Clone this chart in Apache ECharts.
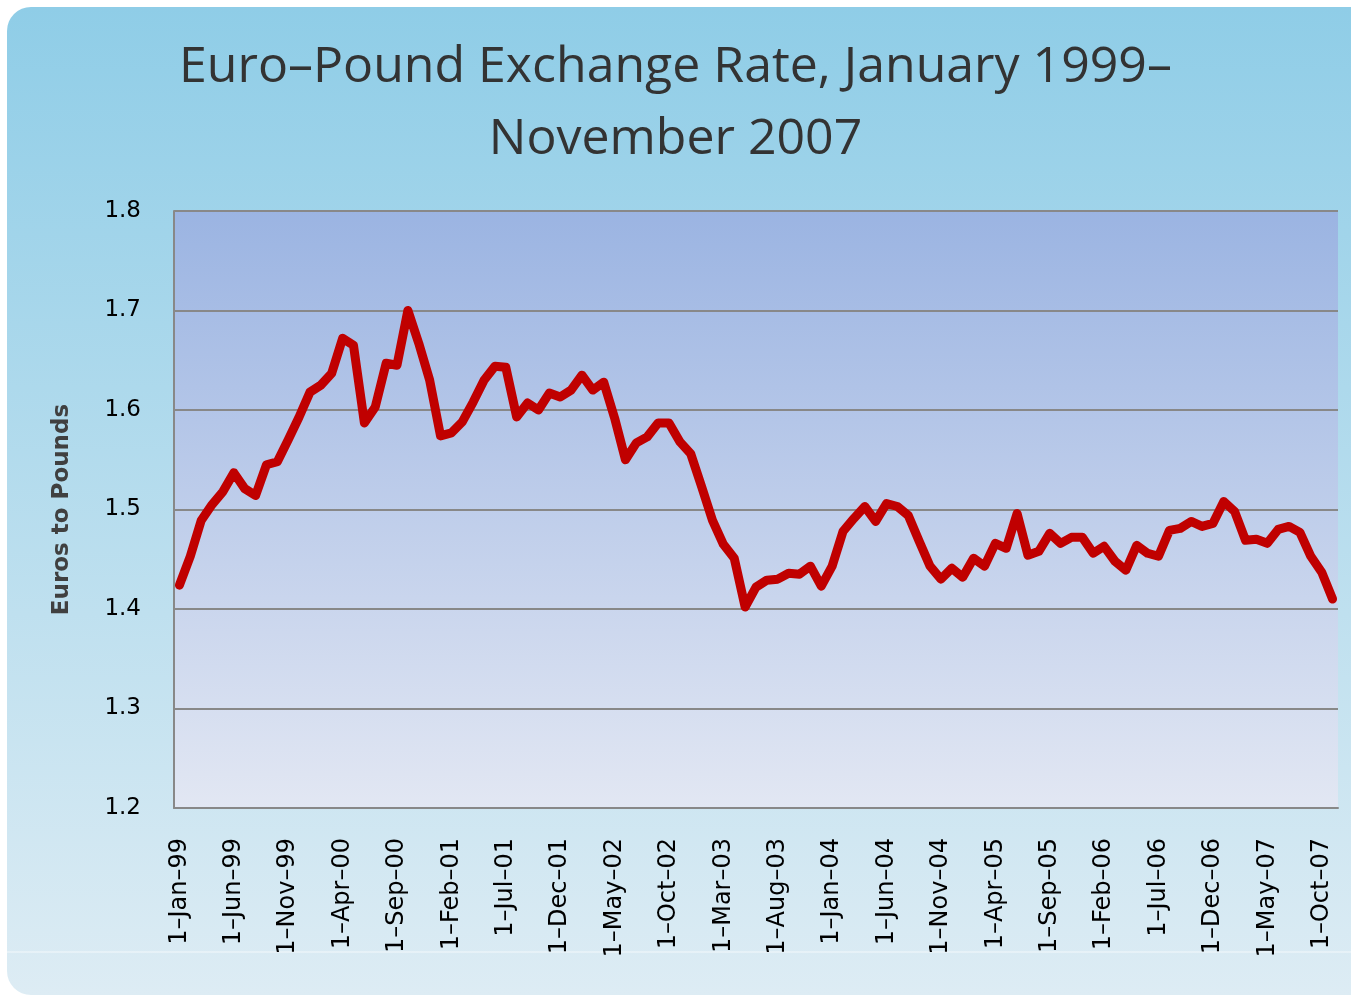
<!DOCTYPE html>
<html>
<head>
<meta charset="utf-8">
<script src="https://cdn.jsdelivr.net/npm/echarts@6/dist/echarts.min.js"></script>
<style>
html,body{margin:0;padding:0;background:#fff;}
#c{width:1351px;height:997px;}
</style>
</head>
<body>
<div id="c"></div>
<script>
const titleText = 'Euro–Pound Exchange Rate, January 1999–\nNovember 2007';
const yAxisName = 'Euros to Pounds';
const monthNames = ['Jan','Feb','Mar','Apr','May','Jun','Jul','Aug','Sep','Oct','Nov','Dec'];
const startYear = 1999;
const monthCount = 107;
const categories = [];
for (let i = 0; i < monthCount; i++) {
  const y = startYear + Math.floor(i / 12);
  categories.push('1–' + monthNames[i % 12] + '–' + String(y % 100).padStart(2, '0'));
}
const rates = [
  1.424, 1.453, 1.489, 1.505, 1.518, 1.537, 1.521, 1.514, 1.545, 1.548,
  1.570, 1.593, 1.618, 1.625, 1.637, 1.672, 1.665, 1.587, 1.603, 1.647,
  1.645, 1.700, 1.667, 1.630, 1.574, 1.577, 1.588, 1.608, 1.630, 1.644,
  1.643, 1.593, 1.607, 1.600, 1.617, 1.613, 1.620, 1.635, 1.620, 1.628,
  1.592, 1.550, 1.567, 1.573, 1.587, 1.587, 1.568, 1.556, 1.523, 1.489,
  1.465, 1.451, 1.402, 1.422, 1.429, 1.430, 1.436, 1.435, 1.443, 1.423,
  1.443, 1.478, 1.491, 1.503, 1.488, 1.506, 1.503, 1.494, 1.468, 1.443,
  1.430, 1.441, 1.432, 1.451, 1.443, 1.466, 1.461, 1.496, 1.454, 1.458,
  1.476, 1.466, 1.472, 1.472, 1.456, 1.463, 1.448, 1.439, 1.464, 1.456,
  1.453, 1.479, 1.481, 1.488, 1.483, 1.486, 1.508, 1.498, 1.469, 1.470,
  1.466, 1.480, 1.483, 1.477, 1.453, 1.437, 1.410
];
const yMin = 1.2, yMax = 1.8, yStep = 0.1;

const chart = echarts.init(document.getElementById('c'), null, {renderer: 'canvas'});
chart.setOption({
  animation: false,
  backgroundColor: '#ffffff',
  graphic: [
    {
      type: 'rect', z: -10, silent: true,
      shape: {x: 7, y: 7, width: 1380, height: 988, r: 24},
      style: {
        fill: new echarts.graphic.LinearGradient(0, 0, 0, 1, [
          {offset: 0, color: '#8fcde7'},
          {offset: 1, color: '#ddecf4'}
        ])
      }
    },
    {
      type: 'line', z: -9, silent: true,
      shape: {x1: 7, y1: 952, x2: 1351, y2: 952},
      style: {stroke: 'rgba(255,255,255,0.7)', lineWidth: 1}
    }
  ],
  title: {
    text: titleText,
    left: 'center',
    top: 27,
    textStyle: {
      fontFamily: 'Open Sans',
      fontSize: 50,
      fontWeight: 'normal',
      color: '#333333',
      lineHeight: 72
    }
  },
  grid: {
    left: 174, top: 211, right: 13, bottom: 189,
    show: true,
    borderWidth: 0,
    backgroundColor: new echarts.graphic.LinearGradient(0, 0, 0, 1, [
      {offset: 0, color: '#9bb4e2'},
      {offset: 1, color: '#e2e7f3'}
    ])
  },
  xAxis: {
    type: 'category',
    data: categories,
    boundaryGap: true,
    axisLine: {show: true, lineStyle: {color: '#888888', width: 2}},
    axisTick: {show: false},
    axisLabel: {
      interval: 4,
      rotate: 90,
      fontFamily: 'DejaVu Sans',
      fontSize: 24,
      color: '#000000',
      margin: 30
    },
    splitLine: {show: false}
  },
  yAxis: {
    type: 'value',
    min: yMin, max: yMax, interval: yStep,
    name: yAxisName,
    nameLocation: 'middle',
    nameRotate: 90,
    nameGap: 100,
    nameTextStyle: {
      fontFamily: 'DejaVu Sans',
      fontSize: 23,
      fontWeight: 'bold',
      color: '#404040'
    },
    axisLine: {show: true, lineStyle: {color: '#888888', width: 2}},
    axisTick: {show: false},
    axisLabel: {
      formatter: v => v.toFixed(1),
      fontFamily: 'DejaVu Sans',
      fontSize: 23,
      color: '#000000',
      margin: 33
    },
    splitLine: {show: true, lineStyle: {color: '#888888', width: 2}}
  },
  series: [{
    type: 'line',
    data: rates,
    symbol: 'none',
    lineStyle: {color: '#c00000', width: 9, join: 'round', cap: 'round'},
    itemStyle: {color: '#c00000'}
  }]
});
</script>
</body>
</html>
